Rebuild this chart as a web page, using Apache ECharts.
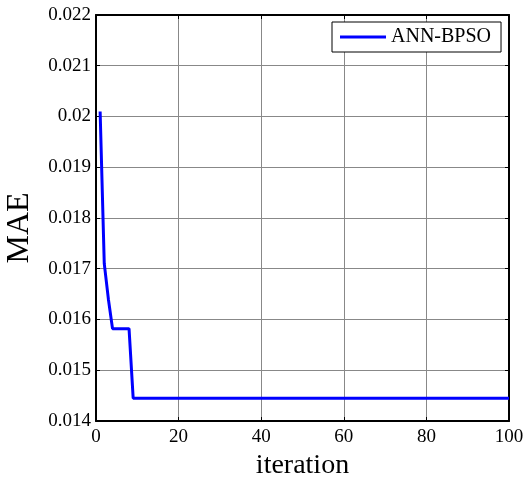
<!DOCTYPE html>
<html>
<head>
<meta charset="utf-8">
<script src="https://cdn.jsdelivr.net/npm/echarts@6/dist/echarts.min.js"></script>
<style>
html,body{margin:0;padding:0;background:#fff;}
#chart{width:525px;height:478px;}
</style>
</head>
<body>
<div id="chart"></div>
<script>
var seriesName = 'ANN-BPSO';
var iterations = [1, 2, 3, 4, 8, 9, 100];
var maeValues = [0.0201, 0.0171, 0.0164, 0.01582, 0.01582, 0.01445, 0.01445];
var xTicks = [0, 20, 40, 60, 80, 100];
var yTicks = [0.014, 0.015, 0.016, 0.017, 0.018, 0.019, 0.02, 0.021, 0.022];

var font = 'Liberation Serif';
var chart = echarts.init(document.getElementById('chart'));
var data = iterations.map(function (it, i) { return [it, maeValues[i]]; });

function baseAxis(extra) {
  var a = {
    axisLine: { show: true, onZero: false, lineStyle: { color: '#000', width: 2 } },
    axisTick: { show: true, inside: true, length: 4, lineStyle: { color: '#000', width: 1 } },
    splitLine: { show: false },
    axisLabel: { show: false }
  };
  for (var k in extra) a[k] = extra[k];
  return a;
}

chart.setOption({
  backgroundColor: '#fff',
  animation: false,
  grid: { left: 96, top: 15, right: 16, bottom: 57, containLabel: false, outerBoundsMode: 'none' },
  legend: {
    left: 332, top: 22,
    padding: [5, 10, 5, 8],
    borderColor: '#000', borderWidth: 1, borderRadius: 0,
    backgroundColor: '#fff',
    itemWidth: 46, itemHeight: 3, itemGap: 5,
    data: [{ name: seriesName, icon: 'rect' }],
    textStyle: { fontFamily: font, fontSize: 20, color: '#000' }
  },
  xAxis: [
    baseAxis({
      type: 'value', position: 'bottom',
      min: xTicks[0], max: xTicks[xTicks.length - 1], interval: 20,
      name: 'iteration', nameLocation: 'middle', nameGap: 28,
      nameTextStyle: { fontFamily: font, fontSize: 28, color: '#000' },
      axisLabel: { show: true, margin: 7, fontFamily: font, fontSize: 19, color: '#000' },
      splitLine: { show: true, lineStyle: { color: '#888', width: 1 } }
    }),
    baseAxis({
      type: 'value', position: 'top',
      min: xTicks[0], max: xTicks[xTicks.length - 1], interval: 20
    })
  ],
  yAxis: [
    baseAxis({
      type: 'value', position: 'left',
      min: yTicks[0], max: yTicks[yTicks.length - 1], interval: 0.001,
      name: 'MAE', nameLocation: 'middle', nameGap: 60, nameRotate: 90,
      nameTextStyle: { fontFamily: font, fontSize: 32, color: '#000', padding: [0, 20, 0, 0] },
      axisLabel: {
        show: true, margin: 5, fontFamily: font, fontSize: 19, color: '#000',
        formatter: function (v) { return String(+v.toFixed(3)); }
      },
      splitLine: { show: true, lineStyle: { color: '#888', width: 1 } }
    }),
    baseAxis({
      type: 'value', position: 'right',
      min: yTicks[0], max: yTicks[yTicks.length - 1], interval: 0.001
    })
  ],
  series: [{
    name: seriesName,
    type: 'line',
    data: data,
    showSymbol: false,
    symbol: 'none',
    lineStyle: { color: '#0000ff', width: 3 },
    itemStyle: { color: '#0000ff' }
  }]
});
</script>
</body>
</html>
